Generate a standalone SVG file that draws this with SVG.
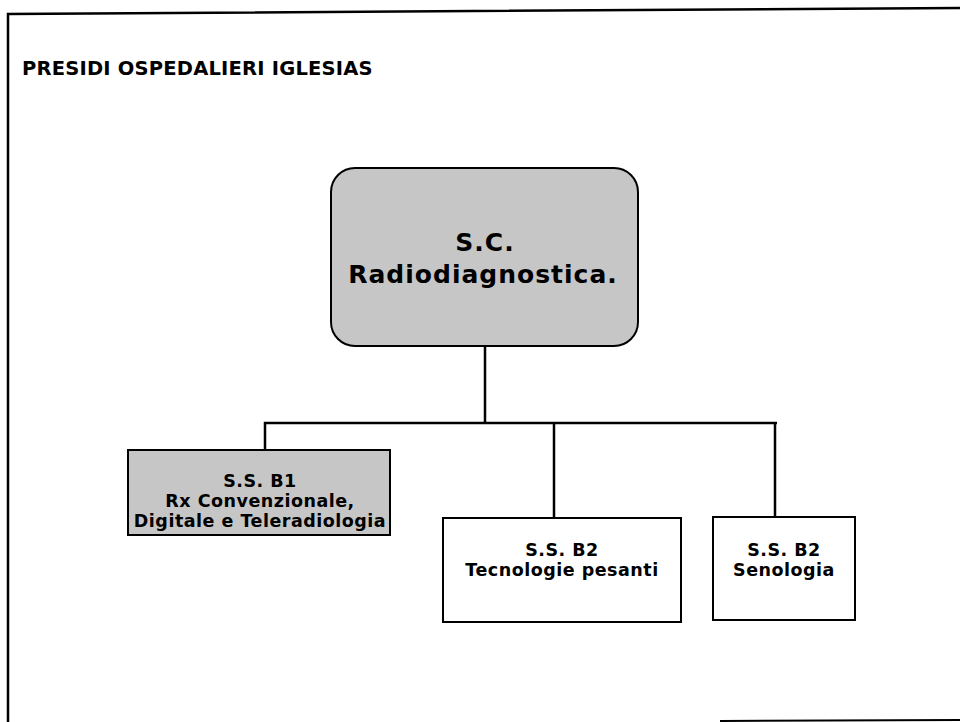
<svg xmlns="http://www.w3.org/2000/svg" width="960" height="722" viewBox="0 0 960 722">
<style>
.t{font-family:"DejaVu Sans",Verdana,sans-serif;font-weight:bold;fill:#000;text-anchor:middle}
.s{font-size:17.5px;letter-spacing:0.5px}
.box{stroke:#000;stroke-width:2}
.g{fill:#c6c6c6}
.w{fill:#fff}
.c{fill:none;stroke:#000;stroke-width:2.5}
</style>
<rect width="960" height="722" fill="#fff"/>
<g id="frame" fill="none" stroke="#000" stroke-width="2.5">
<path d="M960,8 L8,14 L8,722"/>
<path d="M720,721 L960,720" stroke-width="2"/>
</g>
<text x="22" y="75" class="t" style="text-anchor:start;font-size:19.5px;letter-spacing:0.2px">PRESIDI OSPEDALIERI IGLESIAS</text>
<g id="connectors">
<path class="c" d="M485,346 V423 M265,450 V423 H777 M554,423 V518 M775,423 V517"/>
</g>
<g id="n-sc">
<rect class="box g" x="331" y="168" width="307" height="178" rx="24"/>
<text class="t" x="485" y="251" style="font-size:25px;letter-spacing:1px">S.C.</text>
<text class="t" x="483" y="283" style="font-size:25px;letter-spacing:1px">Radiodiagnostica.</text>
</g>
<g id="n-b1">
<rect class="box g" x="128" y="450" width="262" height="85"/>
<text class="t s" x="260" y="487">S.S. B1</text>
<text class="t s" x="260" y="507">Rx Convenzionale,</text>
<text class="t s" x="260" y="527">Digitale e Teleradiologia</text>
</g>
<g id="n-b2a">
<rect class="box w" x="443" y="518" width="238" height="104"/>
<text class="t s" x="562" y="556">S.S. B2</text>
<text class="t s" x="562" y="576">Tecnologie pesanti</text>
</g>
<g id="n-b2b">
<rect class="box w" x="713" y="517" width="142" height="103"/>
<text class="t s" x="784" y="556">S.S. B2</text>
<text class="t s" x="784" y="576">Senologia</text>
</g>
</svg>
